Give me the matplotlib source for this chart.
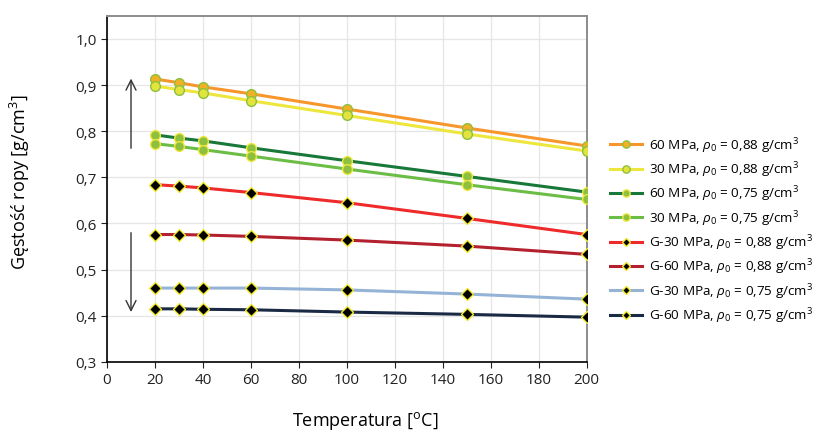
import matplotlib
matplotlib.use("Agg")
import matplotlib.pyplot as plt

plt.rcParams['font.family'] = ['Open Sans', 'DejaVu Sans']
plt.rcParams['mathtext.fontset'] = 'custom'
plt.rcParams['mathtext.rm'] = 'Open Sans'
plt.rcParams['mathtext.it'] = 'Open Sans:italic'

temps = [20, 30, 40, 60, 100, 150, 200]

rho_60_088 = [0.913, 0.905, 0.896, 0.881, 0.848, 0.807, 0.768]
rho_30_088 = [0.898, 0.890, 0.883, 0.866, 0.834, 0.794, 0.757]
rho_60_075 = [0.792, 0.785, 0.779, 0.764, 0.736, 0.702, 0.668]
rho_30_075 = [0.773, 0.767, 0.760, 0.746, 0.718, 0.684, 0.652]
rho_g30_088 = [0.684, 0.681, 0.677, 0.667, 0.645, 0.611, 0.576]
rho_g60_088 = [0.576, 0.576, 0.575, 0.572, 0.564, 0.551, 0.533]
rho_g30_075 = [0.460, 0.460, 0.460, 0.460, 0.456, 0.447, 0.436]
rho_g60_075 = [0.415, 0.415, 0.414, 0.413, 0.408, 0.403, 0.397]

labels = [
    r"60 MPa, $\rho_0$ = 0,88 g/cm$^3$",
    r"30 MPa, $\rho_0$ = 0,88 g/cm$^3$",
    r"60 MPa, $\rho_0$ = 0,75 g/cm$^3$",
    r"30 MPa, $\rho_0$ = 0,75 g/cm$^3$",
    r"G-30 MPa, $\rho_0$ = 0,88 g/cm$^3$",
    r"G-60 MPa, $\rho_0$ = 0,88 g/cm$^3$",
    r"G-30 MPa, $\rho_0$ = 0,75 g/cm$^3$",
    r"G-60 MPa, $\rho_0$ = 0,75 g/cm$^3$",
]
series = [rho_60_088, rho_30_088, rho_60_075, rho_30_075,
          rho_g30_088, rho_g60_088, rho_g30_075, rho_g60_075]

line_colors = ['#F7962B', '#EDE63C', '#17783A', '#6CBD45',
               '#EE2A2A', '#B3202E', '#95B3D7', '#1B2A44']
marker_face = ['#F2B124', '#E3E33E', '#8DC03F', '#8DC03F',
               'black', 'black', 'black', 'black']
marker_edge = ['#8DC03F', '#8DC03F', '#EDE63C', '#EDE63C',
               '#F2EA2A', '#F2EA2A', '#F2EA2A', '#F2EA2A']
markers = ['o', 'o', 'o', 'o', 'D', 'D', 'D', 'D']

fig = plt.figure(figsize=(8.17, 4.31), dpi=100)
ax = fig.add_axes([0.131, 0.158, 0.587, 0.803])

for y, lab, lc, mf, me, mk in zip(series, labels, line_colors,
                                   marker_face, marker_edge, markers):
    ms = 7 if mk == 'o' else 6
    ax.plot(temps, y, color=lc, lw=2.2, marker=mk, markersize=ms,
            markerfacecolor=mf, markeredgecolor=me, markeredgewidth=1.0,
            label=lab, zorder=3)

# trend arrows
ax.annotate('', xy=(10, 0.920), xytext=(10, 0.757),
            arrowprops=dict(arrowstyle='->', color='#333333', lw=1.0,
                            mutation_scale=18))
ax.annotate('', xy=(10, 0.402), xytext=(10, 0.586),
            arrowprops=dict(arrowstyle='->', color='#333333', lw=1.0,
                            mutation_scale=18))

ax.set_xlim(0, 200)
ax.set_ylim(0.3, 1.05)
ax.set_xticks(range(0, 201, 20))
ax.set_yticks([0.3, 0.4, 0.5, 0.6, 0.7, 0.8, 0.9, 1.0])
ax.set_yticklabels(['0,3', '0,4', '0,5', '0,6', '0,7', '0,8', '0,9', '1,0'])
ax.tick_params(labelsize=11, colors='#222222', length=4, width=0.8)
ax.grid(True, color='#E6E6E6', lw=0.9)
ax.set_axisbelow(True)

for s in ['left', 'bottom']:
    ax.spines[s].set_color('black')
    ax.spines[s].set_linewidth(1.2)
for s in ['top', 'right']:
    ax.spines[s].set_color('#8C8C8C')
    ax.spines[s].set_linewidth(1.4)

ax.set_xlabel(r"Temperatura [$^{\rm o}$C]", fontsize=13)
ax.set_ylabel(r"Gęstość ropy [g/cm$^3$]", fontsize=13)
ax.xaxis.set_label_coords(0.5375, -0.136)
ax.yaxis.set_label_coords(-0.156, 0.523)

ax.legend(loc='center left', bbox_to_anchor=(1.037, 0.381), frameon=False,
          borderaxespad=0, fontsize=9.7, handlelength=2.37,
          labelspacing=0.35, handletextpad=0.52, markerscale=0.75)

fig.savefig('out.png', dpi=100)
